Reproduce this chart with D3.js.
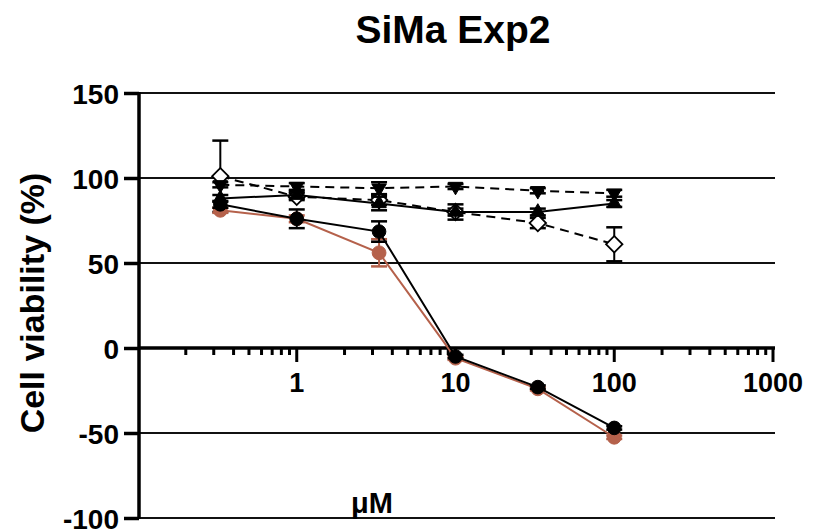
<!DOCTYPE html>
<html>
<head>
<meta charset="utf-8">
<script src="https://cdn.jsdelivr.net/npm/d3@7/dist/d3.min.js"></script>
<style>
  html, body { margin: 0; padding: 0; background: #fff; }
  svg { display: block; font-family: "Liberation Sans", Arial, sans-serif; }
</style>
</head>
<body>
<svg id="chart" width="813" height="531"></svg>
<script>
// Concentrations (µM) on a log axis
const doses = [0.33, 1, 3.3, 10, 33, 100];

// Mean viability (%) and error for each treatment
const circleBlack = [84.5, 76, 68.5, -5, -23, -47];
const circleBlackErr = [2, 5.5, 6, 1, 1, 1];
const circleRed = [81, 76, 56, -6, -24, -52.5];
const circleRedErr = [1.5, 2, 8, 1, 1, 1];
const triUp = [88, 90, 85, 80, 80, 85];
const triUpErr = [2, 2, 4, 4.5, 2, 2];
const triDown = [96, 95, 94, 95, 92.5, 91];
const triDownErr = [1.5, 2, 3.5, 1.5, 1.5, 2];
const diamond = [101, 89, 87, 80, 73.5, 61];
const diamondErr = [21, 2, 3, 2, 3, 10];

const yTicks = [-100, -50, 0, 50, 100, 150];
const xTicks = [1, 10, 100, 1000];
const redColor = "#b5614b";

const svg = d3.select("#chart");
const x = d3.scaleLog().domain([0.1, 1000]).range([138, 773]);
const y = d3.scaleLinear().domain([-100, 150]).range([518, 93]);

// Title
svg.append("text").attr("x", 453).attr("y", 43).attr("text-anchor", "middle")
  .attr("font-size", 39).attr("font-weight", "bold").text("SiMa Exp2");

// Horizontal reference lines
svg.append("g").selectAll("line").data(yTicks.filter(d => d !== 0)).join("line")
  .attr("x1", 139).attr("x2", 775).attr("y1", d => y(d)).attr("y2", d => y(d))
  .attr("stroke", "#111").attr("stroke-width", 2);

// Y axis
const yAxis = svg.append("g").attr("transform", "translate(139,0)")
  .call(d3.axisLeft(y).tickValues(yTicks).tickSize(15).tickPadding(5).tickFormat(d => String(d)));
yAxis.select(".domain").attr("stroke", "#000").attr("stroke-width", 3.5)
  .attr("d", `M0,${y(150) - 1}V${y(-100) + 1}`);
yAxis.selectAll(".tick line").attr("stroke", "#000").attr("stroke-width", 3.5);
yAxis.selectAll(".tick text").attr("font-size", 28).attr("font-weight", "bold")
  .attr("fill", "#000").attr("dy", "0.36em");

// X axis along zero, with major and minor log ticks below the line
const minor = [];
for (let e = -1; e < 3; e++) for (let m = 2; m <= 9; m++) minor.push(m * Math.pow(10, e));
const xg = svg.append("g").attr("transform", `translate(0,${y(0)})`);
xg.append("line").attr("x1", 138).attr("x2", 775).attr("stroke", "#000").attr("stroke-width", 3.5);
xg.selectAll("line.minor").data(minor).join("line").attr("class", "minor")
  .attr("x1", d => x(d)).attr("x2", d => x(d)).attr("y1", 0).attr("y2", 7)
  .attr("stroke", "#000").attr("stroke-width", 3);
xg.selectAll("line.major").data(xTicks).join("line").attr("class", "major")
  .attr("x1", d => x(d)).attr("x2", d => x(d)).attr("y1", 0).attr("y2", 14)
  .attr("stroke", "#000").attr("stroke-width", 3);
xg.selectAll("text").data(xTicks).join("text")
  .attr("x", d => x(d)).attr("y", 44).attr("text-anchor", "middle")
  .attr("font-size", 27).attr("font-weight", "bold").text(d => d);

// Axis titles
svg.append("text").attr("transform", "translate(44,303) rotate(-90)")
  .attr("text-anchor", "middle").attr("font-size", 34).attr("font-weight", "bold")
  .text("Cell viability (%)");
svg.append("text").attr("x", 372).attr("y", 513).attr("text-anchor", "middle")
  .attr("font-size", 29).attr("font-weight", "bold").text("μM");

// Series drawing helpers
const line = d3.line().x(d => x(d.x)).y(d => y(d.v));
function series(vals, errs, opts) {
  const data = doses.map((d, i) => ({ x: d, v: vals[i], e: errs[i] }));
  const g = svg.append("g");
  g.append("path").datum(data).attr("d", line).attr("fill", "none")
    .attr("stroke", opts.color).attr("stroke-width", 2)
    .attr("stroke-dasharray", opts.dash || null);
  const eb = g.selectAll("g.err").data(data).join("g").attr("class", "err");
  eb.append("line").attr("x1", d => x(d.x)).attr("x2", d => x(d.x))
    .attr("y1", d => y(d.v + d.e)).attr("y2", d => y(d.v - d.e))
    .attr("stroke", opts.color).attr("stroke-width", 2);
  [1, -1].forEach(s => {
    eb.append("line").attr("x1", d => x(d.x) - 8).attr("x2", d => x(d.x) + 8)
      .attr("y1", d => y(d.v + s * d.e)).attr("y2", d => y(d.v + s * d.e))
      .attr("stroke", opts.color).attr("stroke-width", 2.5);
  });
  g.selectAll("path.mk").data(data).join("path").attr("class", "mk")
    .attr("transform", d => `translate(${x(d.x)},${y(d.v)})${opts.rotate ? " rotate(" + opts.rotate + ")" : ""}`)
    .attr("d", d3.symbol().type(opts.symbol).size(opts.size))
    .attr("fill", opts.fill).attr("stroke", opts.color).attr("stroke-width", opts.sw || 1);
}

series(diamond, diamondErr, { symbol: d3.symbolSquare, size: 135, rotate: 45, fill: "#fff", color: "#000", dash: "9,6", sw: 1.8 });
series(triDown, triDownErr, { symbol: d3.symbolTriangle, size: 90, rotate: 180, fill: "#000", color: "#000", dash: "9,6" });
series(triUp, triUpErr, { symbol: d3.symbolTriangle, size: 90, fill: "#000", color: "#000" });
series(circleRed, circleRedErr, { symbol: d3.symbolCircle, size: 150, fill: redColor, color: redColor });
series(circleBlack, circleBlackErr, { symbol: d3.symbolCircle, size: 145, fill: "#000", color: "#000" });
</script>
</body>
</html>
